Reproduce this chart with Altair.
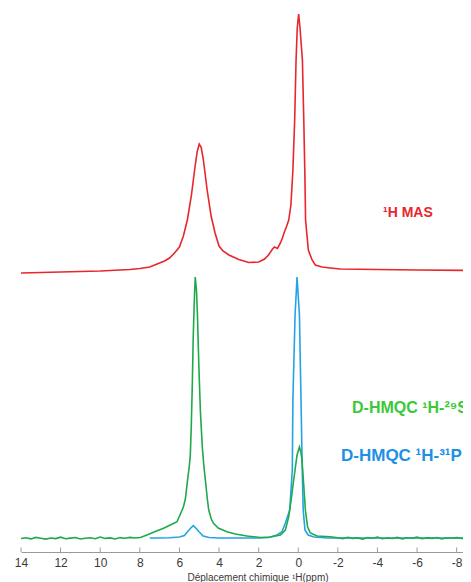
import altair as alt
import pandas as pd

# ---- data (ppm, displayed intensity) ----
red_ppm = [14.0, 13.0, 12.0, 11.0, 10.0, 9.0, 8.5, 8.0, 7.5, 7.0, 6.75, 6.5, 6.25, 6.0, 5.8, 5.6,
           5.4, 5.3, 5.2, 5.1, 5.0, 4.9, 4.8, 4.7, 4.6, 4.4, 4.2, 4.0, 3.8, 3.5, 3.0, 2.5, 2.0,
           1.7, 1.5, 1.3, 1.2, 1.05, 0.9, 0.8, 0.7, 0.6, 0.48, 0.37, 0.27, 0.18, 0.11, 0.05,
           -0.02, -0.09, -0.21, -0.28, -0.34, -0.37, -0.51, -0.7, -0.86, -1.2, -1.62, -2.13,
           -4.0, -6.0, -8.74]
red_int = [279, 279.5, 280, 280.5, 281, 282, 282.5, 283.5, 285, 289, 291, 294, 299, 305, 316, 332,
           356, 371.5, 387, 400.5, 408, 404.5, 393.5, 378, 362, 336, 319, 306, 301, 297, 292.5, 289.5, 290,
           293, 297, 303, 305, 303.5, 309, 314, 320, 325, 332, 347, 382, 432, 492, 524,
           538, 524, 492, 432, 372, 332, 302, 292, 287, 285, 284, 283,
           282.5, 282, 281.5]

green_ppm = [14.0, 13.75, 13.5, 13.25, 13.0, 12.75, 12.5, 12.25, 12.0, 11.75, 11.5, 11.25, 11.0,
             10.75, 10.5, 10.25, 10.0, 9.75, 9.5, 9.25, 9.0, 8.75, 8.5, 8.25,
             7.97, 7.64, 7.22, 6.8, 6.46, 6.12, 5.95, 5.8, 5.7, 5.6, 5.5, 5.45, 5.4, 5.35, 5.3,
             5.24, 5.2, 5.14, 5.09, 5.02, 4.94, 4.84, 4.77, 4.69, 4.59, 4.52, 4.39, 4.29, 4.04,
             3.6, 3.18, 2.59, 1.91, 1.41, 0.9, 0.65, 0.48, 0.36, 0.23, 0.06, -0.06, -0.13, -0.19,
             -0.27, -0.36, -0.47, -0.61, -0.95, -1.62,
             -2.0, -2.25, -2.5, -2.75, -3.0, -3.25, -3.5, -3.75, -4.0, -4.25, -4.5, -4.75, -5.0,
             -5.25, -5.5, -5.75, -6.0, -6.25, -6.5, -6.75, -7.0, -7.25, -7.5, -7.75, -8.0, -8.25,
             -8.5, -8.74]
green_int = [13.5, 14.2, 13.1, 14.6, 13.8, 12.9, 14.0, 13.4, 14.8, 13.2, 13.9, 14.5, 13.0,
             13.7, 14.3, 13.3, 14.9, 13.6, 14.1, 13.0, 14.4, 13.8, 14.6, 14.0,
             14.5, 17, 20.5, 23.7, 27, 30.3, 38, 45, 53, 70, 86, 97, 127, 167, 217,
             257, 275, 262, 237, 187, 140, 104, 87, 72, 53, 42, 33, 29, 24,
             20.3, 18, 16, 14.5, 15, 17, 22, 35.3, 52, 72, 97, 105, 100, 92,
             69, 42, 25.3, 19, 16, 15.3,
             14.2, 13.4, 14.7, 13.6, 14.1, 12.9, 14.4, 13.8, 14.9, 13.3, 14.0, 13.5, 14.6,
             13.1, 14.3, 13.7, 14.8, 13.2, 14.1, 13.6, 14.5, 13.0, 14.2, 13.8, 14.4, 13.5,
             14.0, 13.7]

blue_ppm = [7.5, 7.0, 6.5, 6.0, 5.75, 5.6, 5.45, 5.3, 5.15, 5.0, 4.8, 4.5, 4.0, 3.0, 2.0, 1.5,
            1.07, 0.82, 0.65, 0.43, 0.3, 0.27, 0.16, 0.06, -0.06, -0.14, -0.2, -0.25, -0.34,
            -0.5, -0.8, -1.5, -3.0, -5.0, -7.0, -8.74]
blue_int = [14, 14, 14.3, 15, 16.5, 20, 23.5, 26.3, 23.5, 20, 16, 14.5, 14, 14, 14, 14.5,
            17, 20.3, 29, 42, 82, 152, 237, 275, 237, 152, 85, 42, 22,
            17, 15, 14, 14, 14, 14, 14]

tick_values = [14, 12, 10, 8, 6, 4, 2, 0, -2, -4, -6, -8]

series_colors = {"red": "#e8262c", "green": "#1fa94c", "blue": "#23a3e6"}
label_texts = ["¹H MAS", "D-HMQC ¹H-²⁹Si", "D-HMQC ¹H-³¹P"]
label_colors = ["#e8262c", "#3cc83c", "#1e90e6"]

W, H = 442, 544
x_scale = alt.Scale(domain=[14, -8.32], nice=False, zero=False)
y_scale = alt.Scale(domain=[0, 544], nice=False, zero=False)

x_axis = alt.Axis(
    values=tick_values, ticks=False, grid=False, labelFlush=False, labelOverlap=False,
    labelExpr="'' + datum.value",
    domainColor="#9a9a9a", domainWidth=1,
    labelFont="Liberation Sans", labelFontSize=12, labelColor="#3a3a3a", labelPadding=5,
    title="Déplacement chimique ¹H(ppm)", titleFont="Liberation Sans", titleFontSize=10,
    titleFontWeight="normal", titleColor="#3a3a3a", titleX=236.5, titleY=28.5,
    titleBaseline="alphabetic", titleAlign="center",
)


def line_layer(ppm, vals, color):
    df = pd.DataFrame({"ppm": ppm, "intensity": vals, "i": list(range(len(ppm)))})
    return alt.Chart(df).mark_line(color=color, strokeWidth=1.6, clip=True).encode(
        x=alt.X("ppm:Q", scale=x_scale, axis=x_axis),
        y=alt.Y("intensity:Q", scale=y_scale, axis=None),
        order="i:Q",
    )


blue = line_layer(blue_ppm, blue_int, series_colors["blue"])
green = line_layer(green_ppm, green_int, series_colors["green"])
red = line_layer(red_ppm, red_int, series_colors["red"])

ticks = alt.Chart(pd.DataFrame({"ppm": tick_values})).mark_rule(color="#9a9a9a", strokeWidth=1).encode(
    x=alt.X("ppm:Q", scale=x_scale, axis=x_axis),
    y=alt.value(H - 4.5),
    y2=alt.value(H),
)


def text_layer(txt, color, px, py, size):
    return alt.Chart(pd.DataFrame({"label": [txt]})).mark_text(
        align="left", baseline="middle", font="Liberation Sans", fontWeight="bold",
        fontSize=size, color=color,
    ).encode(text="label:N", x=alt.value(px), y=alt.value(py))


t_red = text_layer(label_texts[0], label_colors[0], 362, 205, 14)
t_green = text_layer(label_texts[1], label_colors[1], 331, 400, 16)
t_blue = text_layer(label_texts[2], label_colors[2], 320, 448, 17)

chart = alt.layer(blue, green, red, ticks, t_red, t_green, t_blue).properties(
    width=W, height=H,
    padding={"left": 13, "top": 0, "right": 0, "bottom": 30},
    autosize=alt.AutoSizeParams(type="none"),
).configure_view(stroke=None)

chart.save("out.html", embed_options={"renderer": "svg", "actions": False})
